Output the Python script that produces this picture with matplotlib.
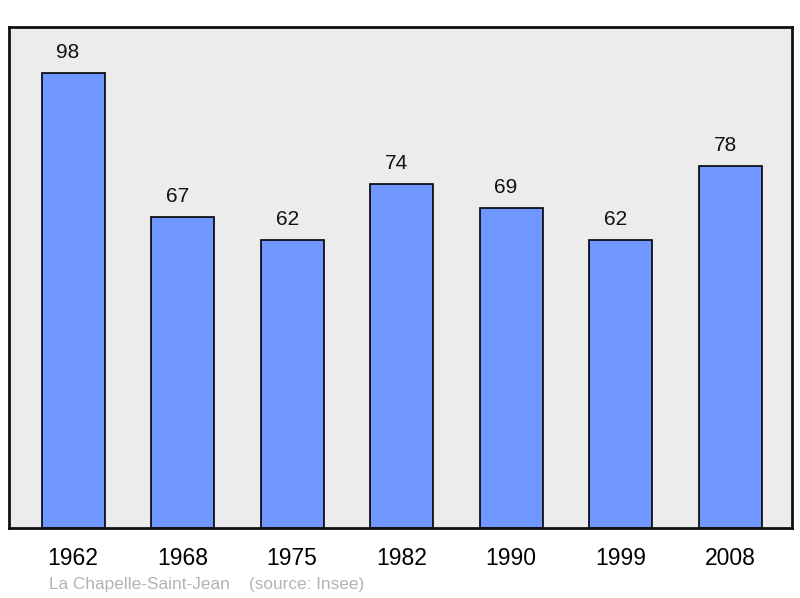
import matplotlib
matplotlib.use("Agg")
import matplotlib.pyplot as plt

years = ["1962", "1968", "1975", "1982", "1990", "1999", "2008"]
population = [98, 67, 62, 74, 69, 62, 78]
source_text = "La Chapelle-Saint-Jean    (source: Insee)"

plt.rcParams['font.family'] = ['Liberation Sans', 'DejaVu Sans']

fig = plt.figure(figsize=(8, 5.98), dpi=100)
ax = fig.add_axes([9/800, 70/598, 783/800, 501/598])
ax.set_facecolor('#ececec')
x = list(range(len(years)))
ax.bar(x, population, width=0.575, color='#7097ff', edgecolor='black', linewidth=1.2, zorder=2)
ax.set_xlim(-0.585, 6.565)
ax.set_ylim(0, 107.9)
for xi, v in zip(x, population):
    ax.annotate(str(v), (xi, v), xytext=(-3.6, 10.8), textcoords='offset points',
                ha='center', va='baseline', fontsize=15, color='#111111')
ax.set_yticks([])
ax.set_xticks(x)
ax.set_xticklabels(years, fontsize=16.5)
ax.tick_params(axis='x', length=0, pad=14)
for s in ax.spines.values():
    s.set_linewidth(2)
    s.set_color('#111111')
fig.text(49/800, 1 - 584/598, source_text, fontsize=12.4, color='#b3b3b3', va='center', ha='left')
fig.savefig('out.png', dpi=100)
